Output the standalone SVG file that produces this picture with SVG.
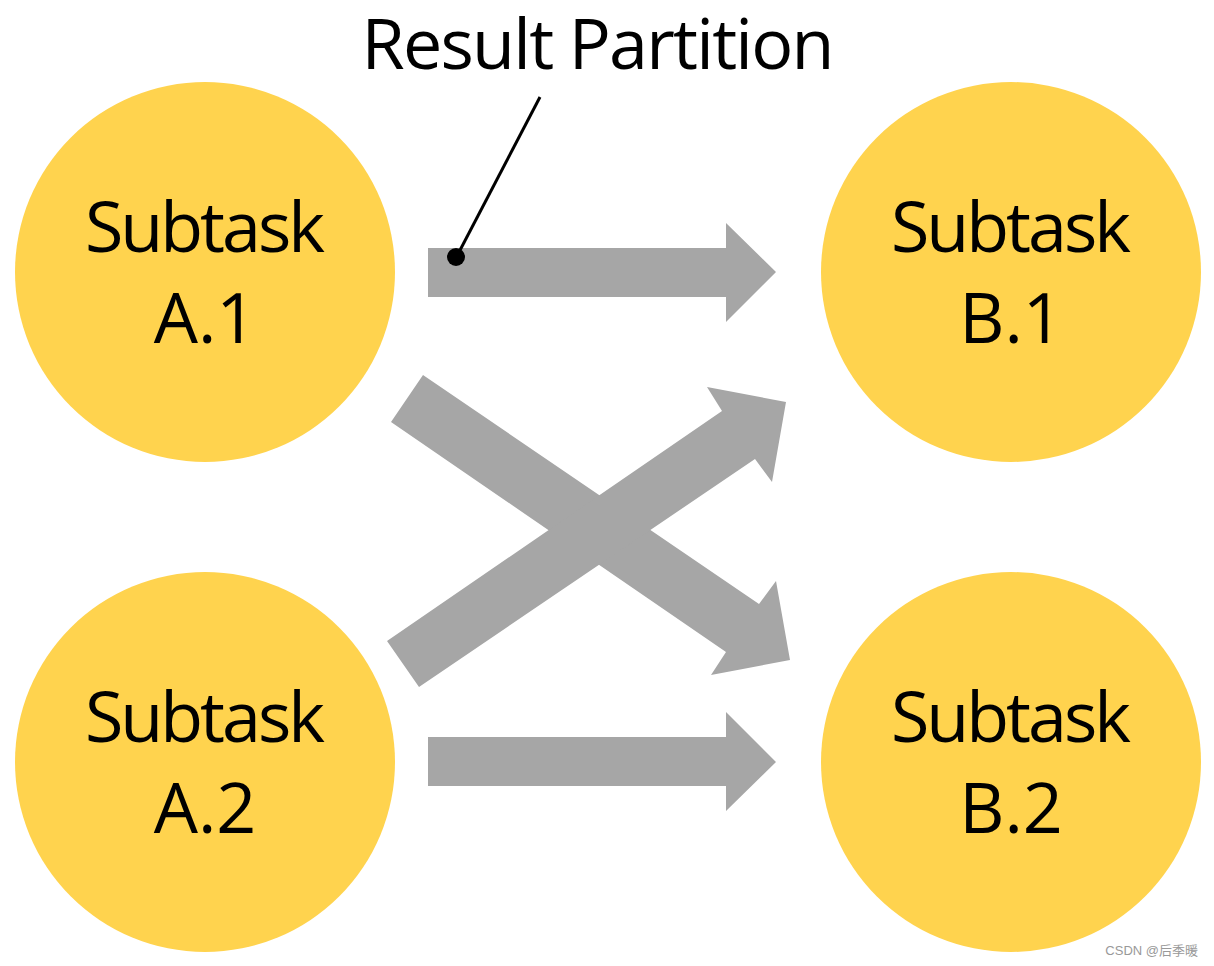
<svg xmlns="http://www.w3.org/2000/svg" width="1214" height="966" viewBox="0 0 1214 966">
<style>
.node{fill:#FFD34E}
.lbl{font-family:"Open Sans","Liberation Sans",sans-serif;font-size:70px;fill:#000;text-anchor:middle}
.arr{fill:#A6A6A6}
</style>
<rect width="1214" height="966" fill="#fff"/>
<g id="connectors">
<polygon class="arr" points="428,248 726,248 726,223 776,272 726,322 726,297 428,297"/>
<polygon class="arr" points="428,737 726,737 726,712 776,762 726,811 726,786 428,786"/>
<polygon class="arr" points="423,375 759,604 776,581 790,660 711,675 726,652 391,422"/>
<polygon class="arr" points="419,687 755,459 772,482 786,402 707,387 722,411 387,641"/>
<line x1="540" y1="97" x2="457" y2="256" stroke="#000" stroke-width="3"/>
<circle cx="456" cy="257" r="9" fill="#000"/>
</g>
<g id="A1"><circle class="node" cx="205" cy="272" r="190"/><text class="lbl" x="205" y="252" textLength="240">Subtask</text><text class="lbl" x="205" y="343">A.1</text></g>
<g id="A2"><circle class="node" cx="205" cy="762" r="190"/><text class="lbl" x="205" y="742" textLength="240">Subtask</text><text class="lbl" x="205" y="833">A.2</text></g>
<g id="B1"><circle class="node" cx="1011" cy="272" r="190"/><text class="lbl" x="1011" y="252" textLength="240">Subtask</text><text class="lbl" x="1011" y="343">B.1</text></g>
<g id="B2"><circle class="node" cx="1011" cy="762" r="190"/><text class="lbl" x="1011" y="742" textLength="240">Subtask</text><text class="lbl" x="1011" y="833">B.2</text></g>
<text x="598" y="69" class="lbl" textLength="473">Result Partition</text>
<text x="1198" y="955" text-anchor="end" font-family="'Liberation Sans','Noto Sans CJK SC',sans-serif" font-size="13" fill="#999">CSDN @后季暖</text>
</svg>
